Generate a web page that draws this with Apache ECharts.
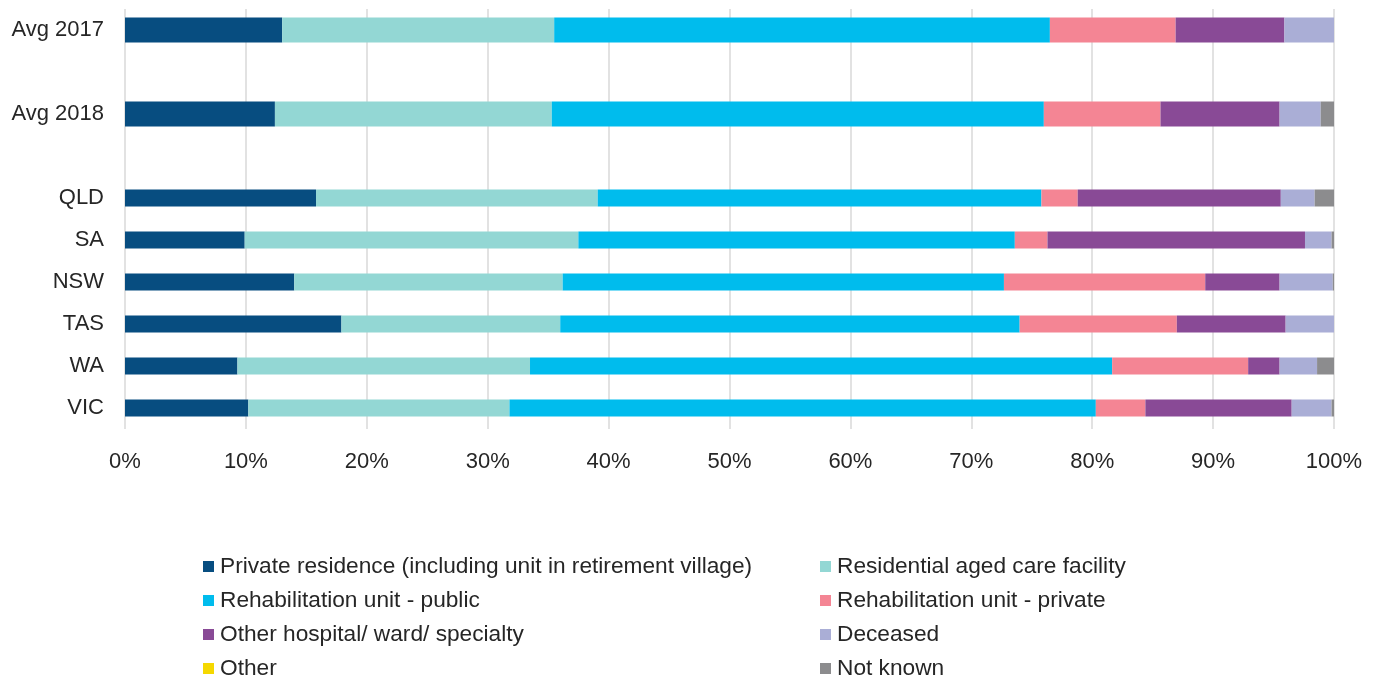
<!DOCTYPE html>
<html><head><meta charset="utf-8">
<script src="https://cdn.jsdelivr.net/npm/echarts@6/dist/echarts.min.js"></script>
<style>html,body{margin:0;padding:0;background:#fff}#c{width:1382px;height:678px}</style>
</head><body><div id="c"></div>
<script>
// categories from bottom to top ('' = spacer rows)
const categories = ['VIC', 'WA', 'TAS', 'NSW', 'SA', 'QLD', '', 'Avg 2018', ' ', 'Avg 2017'];
const seriesNames = [
  'Private residence (including unit in retirement village)',
  'Residential aged care facility',
  'Rehabilitation unit - public',
  'Rehabilitation unit - private',
  'Other hospital/ ward/ specialty',
  'Deceased',
  'Other',
  'Not known'
];
const colors = ['#074d80', '#93d7d4', '#00bced', '#f48594', '#894a96', '#aaaed6', '#f5d800', '#8c8c8e'];
// values per series, in category order (VIC, WA, TAS, NSW, SA, QLD, -, Avg 2018, -, Avg 2017)
const privateResidence = [10.2, 9.3, 17.9, 14.0, 9.9, 15.8, null, 12.4, null, 13.0];
const residentialCare  = [21.6, 24.2, 18.1, 22.2, 27.6, 23.3, null, 22.9, null, 22.5];
const rehabPublic      = [48.5, 48.15, 38.0, 36.5, 36.1, 36.7, null, 40.7, null, 41.0];
const rehabPrivate     = [4.1, 11.25, 13.0, 16.65, 2.7, 3.0, null, 9.65, null, 10.4];
const otherHospital    = [12.1, 2.6, 9.0, 6.15, 21.3, 16.8, null, 9.85, null, 9.0];
const deceased         = [3.3, 3.1, 4.0, 4.4, 2.2, 2.8, null, 3.4, null, 4.1];
const other            = [0, 0, 0, 0, 0, 0, null, 0, null, 0];
const notKnown         = [0.2, 1.4, 0, 0.1, 0.2, 1.6, null, 1.1, null, 0];
const allValues = [privateResidence, residentialCare, rehabPublic, rehabPrivate, otherHospital, deceased, other, notKnown];
const xTickLabels = ['0%', '10%', '20%', '30%', '40%', '50%', '60%', '70%', '80%', '90%', '100%'];
const avgCats = ['Avg 2018', 'Avg 2017'];

const FONT = 'Liberation Sans, Arial, sans-serif';
const series = [];
allValues.forEach((vals, i) => {
  // state bars (thin) on yAxis 0
  series.push({
    name: seriesNames[i], type: 'bar', stack: 'states', yAxisIndex: 0, barWidth: 17,
    itemStyle: { color: colors[i] },
    data: vals.map((v, k) => avgCats.includes(categories[k]) ? null : v)
  });
  // average bars (thick) on yAxis 1
  series.push({
    name: seriesNames[i], type: 'bar', stack: 'avg', yAxisIndex: 1, barWidth: 25,
    itemStyle: { color: colors[i] },
    data: vals.map((v, k) => avgCats.includes(categories[k]) ? v : null)
  });
});

// one legend per entry: two columns, four rows
const legends = seriesNames.map((name, i) => ({
  data: [name],
  left: i % 2 === 0 ? 203 : 820,
  top: 555 + Math.floor(i / 2) * 34,
  padding: 0,
  itemWidth: 11, itemHeight: 11, itemGap: 5, icon: 'rect', selectedMode: false,
  textStyle: { fontFamily: FONT, fontSize: 22.7, color: '#262626', padding: [0, 0, 0, 1] }
}));

const chart = echarts.init(document.getElementById('c'), null, { renderer: 'canvas' });
chart.setOption({
  animation: false,
  textStyle: { fontFamily: FONT },
  grid: { left: 125, right: 48, top: 9, bottom: 249 },
  xAxis: {
    type: 'value', min: 0, max: 100, interval: 10,
    axisLine: { show: false }, axisTick: { show: false },
    splitLine: { lineStyle: { color: '#d9d9d9', width: 1.5 } },
    axisLabel: { fontSize: 22, color: '#262626', margin: 22, fontFamily: FONT,
      formatter: (v) => xTickLabels[Math.round(v / 10)] }
  },
  yAxis: [
    { type: 'category', data: categories, axisLine: { show: false }, axisTick: { show: false },
      axisLabel: { fontSize: 22, color: '#262626', margin: 21, fontFamily: FONT, padding: [3, 0, 0, 0] } },
    { type: 'category', data: categories, position: 'left', show: false }
  ],
  legend: legends,
  series: series
});
</script></body></html>
